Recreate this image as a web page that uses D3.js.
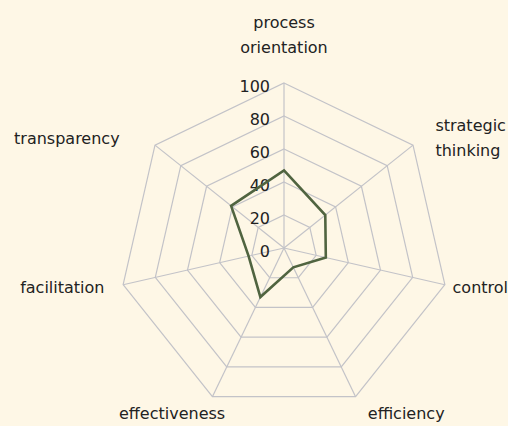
<!DOCTYPE html>
<html>
<head>
<meta charset="utf-8">
<script src="https://cdn.jsdelivr.net/npm/d3@7"></script>
<style>
  html, body { margin: 0; padding: 0; background: #fef7e6; }
  svg { display: block; }
  text { font-family: "DejaVu Sans", sans-serif; font-size: 16px; fill: #222; }
</style>
</head>
<body>
<script>
// axes of the radar, clockwise from the top
var axes = [["process", "orientation"], ["strategic", "thinking"], ["control"], ["efficiency"],
            ["effectiveness"], ["facilitation"], ["transparency"]];
// score per axis
var scores = [47, 32, 26, 13, 33, 22, 41];
// ring ticks
var ticks = [0, 20, 40, 60, 80, 100];

var width = 508, height = 426;
var cx = 284, cy = 248, R = 165;
// small horizontal nudges for the axis labels
var labelNudge = [0, 13, -4, 7, 18, -7, -26];

var svg = d3.select("body").append("svg").attr("width", width).attr("height", height);

var r = d3.scaleLinear().domain([0, 100]).range([0, R]);
var angle = function(i){ return i * 2 * Math.PI / axes.length; };
var px = function(i, v){ return cx + r(v) * Math.sin(angle(i)); };
var py = function(i, v){ return cy - r(v) * Math.cos(angle(i)); };

var g = svg.append("g");

// rings
ticks.filter(function(t){ return t > 0; }).forEach(function(t){
  g.append("path")
    .attr("d", d3.line()(axes.map(function(a, i){ return [px(i, t), py(i, t)]; })) + "Z")
    .attr("fill", "none")
    .attr("stroke", "#c3c3c8")
    .attr("stroke-width", 1.2);
});

// spokes
g.selectAll("line.spoke").data(axes).enter().append("line")
  .attr("x1", cx).attr("y1", cy)
  .attr("x2", function(d, i){ return px(i, 100); })
  .attr("y2", function(d, i){ return py(i, 100); })
  .attr("stroke", "#c3c3c8")
  .attr("stroke-width", 1.2);

// tick labels
g.selectAll("text.tick").data(ticks).enter().append("text")
  .attr("x", cx - 14)
  .attr("y", function(d){ return cy - r(d) + 8.7; })
  .attr("text-anchor", "end")
  .text(function(d){ return d; });

// data line
var line = d3.line();
g.append("path")
  .attr("d", line(scores.map(function(v, i){ return [px(i, v), py(i, v)]; })) + "Z")
  .attr("fill", "none")
  .attr("stroke", "#506440")
  .attr("stroke-width", 2.6)
  .attr("stroke-linejoin", "miter");

// axis labels
var lh = 25;
axes.forEach(function(lines, i){
  var a = angle(i), s = Math.sin(a), c = Math.cos(a);
  var x = cx + (R + 12) * s + labelNudge[i];
  var y = cy - (R + 12) * c;
  var anchor = Math.abs(s) < 0.1 ? "middle" : (s > 0 ? "start" : "end");
  var first;
  if (c > 0.8) first = y - 18 - (lines.length - 1) * lh;        // above
  else if (c < -0.8) first = y + 12;                           // below
  else first = y + 6 - (lines.length - 1) * lh / 2;             // beside
  var t = g.append("text").attr("text-anchor", anchor);
  lines.forEach(function(l, k){
    t.append("tspan").attr("x", x).attr("y", first + k * lh).text(l);
  });
});
</script>
</body>
</html>
